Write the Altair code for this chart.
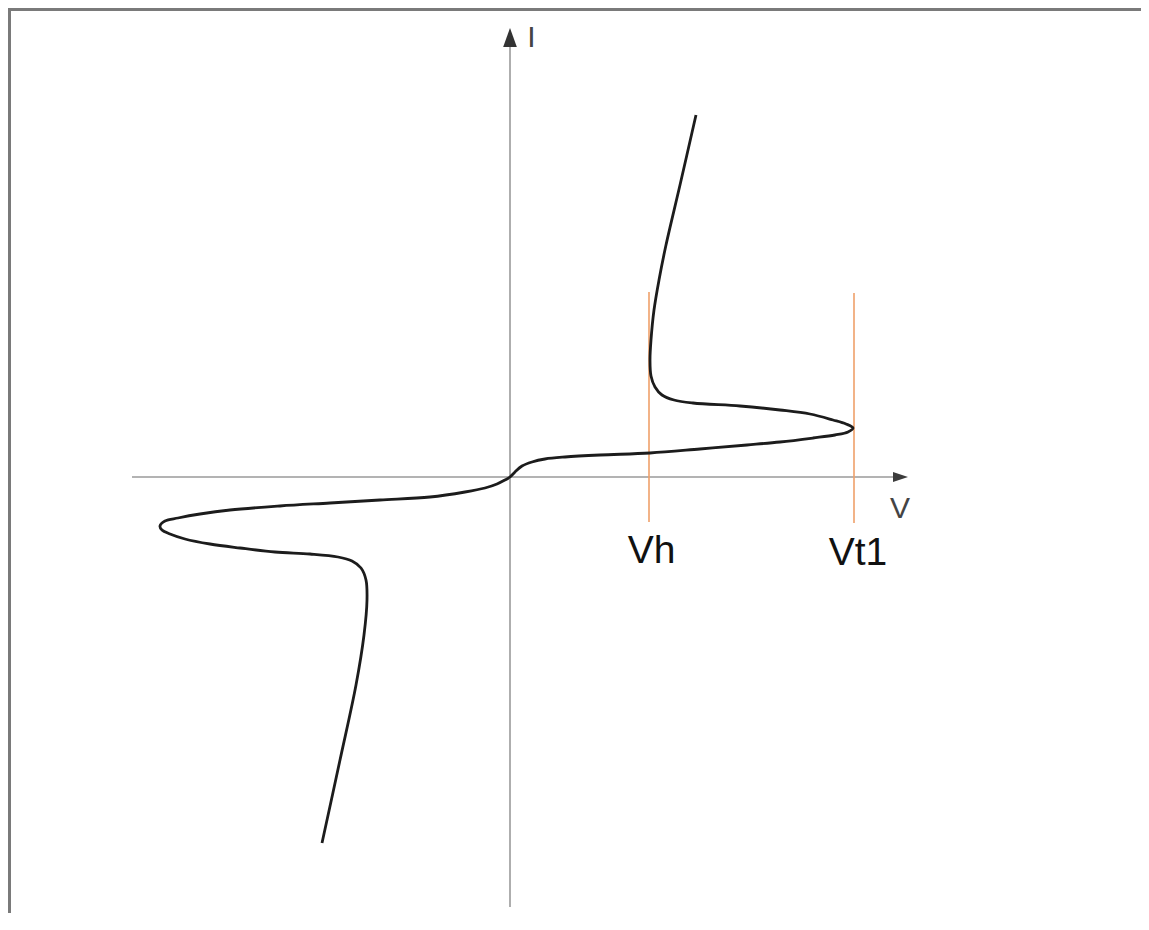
import altair as alt
import pandas as pd

# ---- data (V, I in schematic units) ----
curve_v = [-1.88, -1.70, -1.54, -1.46, -1.43, -1.44, -1.49, -1.58, -1.72, -2.00,
           -2.35, -2.70, -3.00, -3.25, -3.40, -3.48, -3.50, -3.45, -3.32, -3.10,
           -2.80, -2.30, -1.80, -1.30, -0.80, -0.45, -0.25, -0.13, -0.05, 0.00,
           0.05, 0.12, 0.22, 0.35, 0.55, 0.90, 1.40, 1.90, 2.37, 2.70,
           3.03, 3.25, 3.38, 3.43, 3.36, 3.23, 3.00, 2.70, 2.30, 1.83,
           1.64, 1.52, 1.45, 1.41, 1.40, 1.41, 1.44, 1.49, 1.56, 1.70, 1.86]
curve_i = [-3.66, -2.83, -2.08, -1.58, -1.23, -1.03, -0.91, -0.84, -0.80, -0.77,
           -0.75, -0.71, -0.67, -0.62, -0.57, -0.53, -0.49, -0.44, -0.41, -0.37,
           -0.33, -0.29, -0.26, -0.23, -0.20, -0.15, -0.11, -0.07, -0.03, 0.00,
           0.05, 0.11, 0.15, 0.18, 0.20, 0.22, 0.24, 0.28, 0.32, 0.35,
           0.39, 0.42, 0.45, 0.49, 0.53, 0.57, 0.63, 0.67, 0.71, 0.74,
           0.77, 0.82, 0.90, 1.01, 1.17, 1.37, 1.67, 1.97, 2.32, 2.92, 3.62]

# coordinate axes (segments) and arrow heads
axis_v1 = [-3.78, 0.00]
axis_v2 = [3.85, 0.00]
axis_i1 = [0.00, -4.30]
axis_i2 = [0.00, 4.37]
arrow_v = [3.905, 0.00]
arrow_i = [0.00, 4.395]
arrow_dir = ["right", "up"]

# marker voltages (Vh, Vt1)
marker_v = [1.39, 3.44]
marker_i1 = [-0.45, -0.46]
marker_i2 = [1.85, 1.84]

# text labels
big_text = ["Vh", "Vt1"]
big_v = [1.415, 3.48]
big_i = [-0.86, -0.88]
axis_text = ["V", "I"]
axis_text_v = [3.90, 0.215]
axis_text_i = [-0.41, 4.30]

W, H = 1133, 905
xs = alt.Scale(domain=[-5.02, 6.31], nice=False, zero=False)
ys = alt.Scale(domain=[-4.36, 4.69], nice=False, zero=False)

curve_df = pd.DataFrame({"v": curve_v, "i": curve_i, "k": list(range(len(curve_v)))})
axis_df = pd.DataFrame({"v": axis_v1, "v2": axis_v2, "i": axis_i1, "i2": axis_i2})
arrow_df = pd.DataFrame({"v": arrow_v, "i": arrow_i, "d": arrow_dir})
marker_df = pd.DataFrame({"v": marker_v, "i": marker_i1, "i2": marker_i2})
big_df = pd.DataFrame({"v": big_v, "i": big_i, "t": big_text})
axt_df = pd.DataFrame({"v": axis_text_v, "i": axis_text_i, "t": axis_text})

X = alt.X("v:Q", scale=xs, axis=None)
Y = alt.Y("i:Q", scale=ys, axis=None)

frame_left = alt.Chart(pd.DataFrame({"a": [0]})).mark_rule(
    color="#7a7a7a", strokeWidth=3
).encode(x=alt.value(1.5), y=alt.value(0), y2=alt.value(H))
frame_top = alt.Chart(pd.DataFrame({"a": [0]})).mark_rule(
    color="#7a7a7a", strokeWidth=3
).encode(y=alt.value(1.5), x=alt.value(0), x2=alt.value(W))

axes = alt.Chart(axis_df).mark_rule(color="#9a9a9a", strokeWidth=1.6).encode(
    x=X, x2="v2:Q", y=Y, y2="i2:Q"
)

arrow_right = alt.Chart(arrow_df[arrow_df.d == "right"]).mark_point(
    shape="M-1,-0.67L1,0L-1,0.67Z", size=225, filled=True, color="#3c3c3c", opacity=1
).encode(x=X, y=Y)
arrow_up = alt.Chart(arrow_df[arrow_df.d == "up"]).mark_point(
    shape="M-0.72,1L0,-1L0.72,1Z", size=361, filled=True, color="#333333", opacity=1
).encode(x=X, y=Y)

markers = alt.Chart(marker_df).mark_rule(color="#EFA06A", strokeWidth=1.6).encode(
    x=X, y=Y, y2="i2:Q"
)

curve = alt.Chart(curve_df).mark_line(
    color="#1c1c1c", strokeWidth=2.8, interpolate="catmull-rom"
).encode(x=X, y=Y, order="k:Q")

big_labels = alt.Chart(big_df).mark_text(
    font="Liberation Sans", fontSize=39, color="#111111", align="center", baseline="alphabetic"
).encode(x=X, y=Y, text="t:N")

axis_labels = alt.Chart(axt_df).mark_text(
    font="Liberation Sans", fontSize=30, color="#444444", align="center", baseline="alphabetic"
).encode(x=X, y=Y, text="t:N")

chart = alt.layer(
    frame_left, frame_top, axes, markers, arrow_right, arrow_up, curve, big_labels, axis_labels
).properties(
    width=W, height=H, padding=0, autosize=alt.AutoSizeParams(type="none"), background="white"
).configure_view(stroke=None)

chart.save("out.html", embed_options={"renderer": "svg", "actions": False})
